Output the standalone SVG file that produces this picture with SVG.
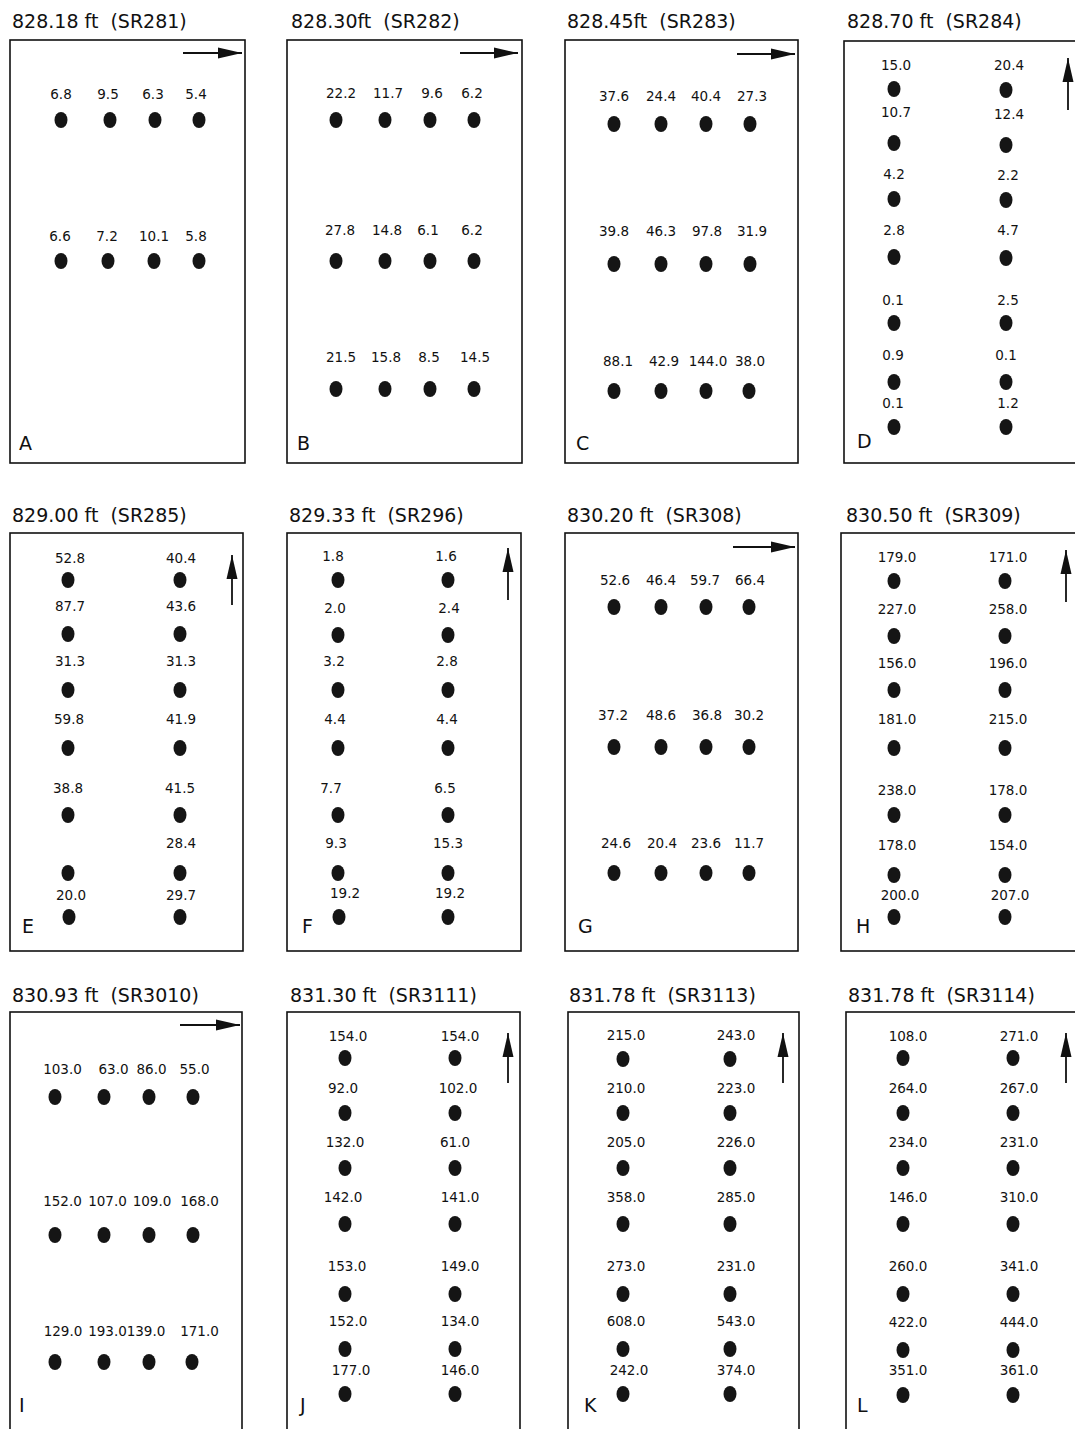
<svg xmlns="http://www.w3.org/2000/svg" xmlns:xlink="http://www.w3.org/1999/xlink" width="1075" height="1429" viewBox="0 0 1075 1429">
<style>
.bg{fill:#fff}
.box{fill:none;stroke:#111;stroke-width:1.6}
.ttl{font-family:"DejaVu Sans",sans-serif;font-size:19px;fill:#111;white-space:pre}
.let{font-family:"DejaVu Sans",sans-serif;font-size:19px;fill:#111}
.v{font-family:"DejaVu Sans",sans-serif;font-size:13.5px;fill:#111;text-anchor:middle}
.arr{stroke:#111;stroke-width:1.8;fill:none;marker-end:url(#ah)}
</style>
<defs>
<ellipse id="dot" cx="0" cy="0" rx="6.5" ry="8" fill="#151515"/>
<marker id="ah" viewBox="0 0 24 12" refX="24" refY="6" markerWidth="24" markerHeight="12" orient="auto" markerUnits="userSpaceOnUse">
<path d="M0,0.5 L24,6 L0,11.5 z" fill="#111"/>
</marker>
</defs>
<rect class="bg" x="0" y="0" width="1075" height="1429"/>

<g id="panel-A">
<text class="ttl" x="12" y="28" xml:space="preserve">828.18 ft  (SR281)</text>
<rect class="box" x="10" y="40" width="235" height="423"/>
<line class="arr" x1="183" y1="53" x2="242" y2="53"/>
<text class="v" x="61" y="99">6.8</text><text class="v" x="108" y="99">9.5</text><text class="v" x="153" y="99">6.3</text><text class="v" x="196" y="99">5.4</text>
<use href="#dot" x="61" y="120"/><use href="#dot" x="110" y="120"/><use href="#dot" x="155" y="120"/><use href="#dot" x="199" y="120"/>
<text class="v" x="60" y="241">6.6</text><text class="v" x="107" y="241">7.2</text><text class="v" x="154" y="241">10.1</text><text class="v" x="196" y="241">5.8</text>
<use href="#dot" x="61" y="261"/><use href="#dot" x="108" y="261"/><use href="#dot" x="154" y="261"/><use href="#dot" x="199" y="261"/>
<text class="let" x="19" y="450">A</text>
</g>

<g id="panel-B">
<text class="ttl" x="291" y="28" xml:space="preserve">828.30ft  (SR282)</text>
<rect class="box" x="287" y="40" width="235" height="423"/>
<line class="arr" x1="460" y1="53" x2="518" y2="53"/>
<text class="v" x="341" y="98">22.2</text><text class="v" x="388" y="98">11.7</text><text class="v" x="432" y="98">9.6</text><text class="v" x="472" y="98">6.2</text>
<use href="#dot" x="336" y="120"/><use href="#dot" x="385" y="120"/><use href="#dot" x="430" y="120"/><use href="#dot" x="474" y="120"/>
<text class="v" x="340" y="235">27.8</text><text class="v" x="387" y="235">14.8</text><text class="v" x="428" y="235">6.1</text><text class="v" x="472" y="235">6.2</text>
<use href="#dot" x="336" y="261"/><use href="#dot" x="385" y="261"/><use href="#dot" x="430" y="261"/><use href="#dot" x="474" y="261"/>
<text class="v" x="341" y="362">21.5</text><text class="v" x="386" y="362">15.8</text><text class="v" x="429" y="362">8.5</text><text class="v" x="475" y="362">14.5</text>
<use href="#dot" x="336" y="389"/><use href="#dot" x="385" y="389"/><use href="#dot" x="430" y="389"/><use href="#dot" x="474" y="389"/>
<text class="let" x="297" y="450">B</text>
</g>

<g id="panel-C">
<text class="ttl" x="567" y="28" xml:space="preserve">828.45ft  (SR283)</text>
<rect class="box" x="565" y="40" width="233" height="423"/>
<line class="arr" x1="737" y1="54" x2="795" y2="54"/>
<text class="v" x="614" y="101">37.6</text><text class="v" x="661" y="101">24.4</text><text class="v" x="706" y="101">40.4</text><text class="v" x="752" y="101">27.3</text>
<use href="#dot" x="614" y="124"/><use href="#dot" x="661" y="124"/><use href="#dot" x="706" y="124"/><use href="#dot" x="750" y="124"/>
<text class="v" x="614" y="236">39.8</text><text class="v" x="661" y="236">46.3</text><text class="v" x="707" y="236">97.8</text><text class="v" x="752" y="236">31.9</text>
<use href="#dot" x="614" y="264"/><use href="#dot" x="661" y="264"/><use href="#dot" x="706" y="264"/><use href="#dot" x="750" y="264"/>
<text class="v" x="618" y="366">88.1</text><text class="v" x="664" y="366">42.9</text><text class="v" x="708" y="366">144.0</text><text class="v" x="750" y="366">38.0</text>
<use href="#dot" x="614" y="391"/><use href="#dot" x="661" y="391"/><use href="#dot" x="706" y="391"/><use href="#dot" x="749" y="391"/>
<text class="let" x="576" y="450">C</text>
</g>

<g id="panel-D">
<text class="ttl" x="847" y="28" xml:space="preserve">828.70 ft  (SR284)</text>
<rect class="box" x="844" y="41" width="240" height="422"/>
<line class="arr" x1="1068" y1="110" x2="1068" y2="58"/>
<text class="v" x="896" y="70">15.0</text><text class="v" x="1009" y="70">20.4</text>
<use href="#dot" x="894" y="89"/><use href="#dot" x="1006" y="90"/>
<text class="v" x="896" y="117">10.7</text><text class="v" x="1009" y="119">12.4</text>
<use href="#dot" x="894" y="143"/><use href="#dot" x="1006" y="145"/>
<text class="v" x="894" y="179">4.2</text><text class="v" x="1008" y="180">2.2</text>
<use href="#dot" x="894" y="199"/><use href="#dot" x="1006" y="200"/>
<text class="v" x="894" y="235">2.8</text><text class="v" x="1008" y="235">4.7</text>
<use href="#dot" x="894" y="257"/><use href="#dot" x="1006" y="258"/>
<text class="v" x="893" y="305">0.1</text><text class="v" x="1008" y="305">2.5</text>
<use href="#dot" x="894" y="323"/><use href="#dot" x="1006" y="323"/>
<text class="v" x="893" y="360">0.9</text><text class="v" x="1006" y="360">0.1</text>
<use href="#dot" x="894" y="382"/><use href="#dot" x="1006" y="382"/>
<text class="v" x="893" y="408">0.1</text><text class="v" x="1008" y="408">1.2</text>
<use href="#dot" x="894" y="427"/><use href="#dot" x="1006" y="427"/>
<text class="let" x="857" y="448">D</text>
</g>

<g id="panel-E">
<text class="ttl" x="12" y="522" xml:space="preserve">829.00 ft  (SR285)</text>
<rect class="box" x="10" y="533" width="233" height="418"/>
<line class="arr" x1="232" y1="605" x2="232" y2="555"/>
<text class="v" x="70" y="563">52.8</text><text class="v" x="181" y="563">40.4</text>
<use href="#dot" x="68" y="580"/><use href="#dot" x="180" y="580"/>
<text class="v" x="70" y="611">87.7</text><text class="v" x="181" y="611">43.6</text>
<use href="#dot" x="68" y="634"/><use href="#dot" x="180" y="634"/>
<text class="v" x="70" y="666">31.3</text><text class="v" x="181" y="666">31.3</text>
<use href="#dot" x="68" y="690"/><use href="#dot" x="180" y="690"/>
<text class="v" x="69" y="724">59.8</text><text class="v" x="181" y="724">41.9</text>
<use href="#dot" x="68" y="748"/><use href="#dot" x="180" y="748"/>
<text class="v" x="68" y="793">38.8</text><text class="v" x="180" y="793">41.5</text>
<use href="#dot" x="68" y="815"/><use href="#dot" x="180" y="815"/>
<text class="v" x="181" y="848">28.4</text>
<use href="#dot" x="68" y="873"/><use href="#dot" x="180" y="873"/>
<text class="v" x="71" y="900">20.0</text><text class="v" x="181" y="900">29.7</text>
<use href="#dot" x="69" y="917"/><use href="#dot" x="180" y="917"/>
<text class="let" x="22" y="933">E</text>
</g>

<g id="panel-F">
<text class="ttl" x="289" y="522" xml:space="preserve">829.33 ft  (SR296)</text>
<rect class="box" x="287" y="533" width="234" height="418"/>
<line class="arr" x1="508" y1="600" x2="508" y2="548"/>
<text class="v" x="333" y="561">1.8</text><text class="v" x="446" y="561">1.6</text>
<use href="#dot" x="338" y="580"/><use href="#dot" x="448" y="580"/>
<text class="v" x="335" y="613">2.0</text><text class="v" x="449" y="613">2.4</text>
<use href="#dot" x="338" y="635"/><use href="#dot" x="448" y="635"/>
<text class="v" x="334" y="666">3.2</text><text class="v" x="447" y="666">2.8</text>
<use href="#dot" x="338" y="690"/><use href="#dot" x="448" y="690"/>
<text class="v" x="335" y="724">4.4</text><text class="v" x="447" y="724">4.4</text>
<use href="#dot" x="338" y="748"/><use href="#dot" x="448" y="748"/>
<text class="v" x="331" y="793">7.7</text><text class="v" x="445" y="793">6.5</text>
<use href="#dot" x="338" y="815"/><use href="#dot" x="448" y="815"/>
<text class="v" x="336" y="848">9.3</text><text class="v" x="448" y="848">15.3</text>
<use href="#dot" x="338" y="873"/><use href="#dot" x="448" y="873"/>
<text class="v" x="345" y="898">19.2</text><text class="v" x="450" y="898">19.2</text>
<use href="#dot" x="339" y="917"/><use href="#dot" x="448" y="917"/>
<text class="let" x="302" y="933">F</text>
</g>

<g id="panel-G">
<text class="ttl" x="567" y="522" xml:space="preserve">830.20 ft  (SR308)</text>
<rect class="box" x="565" y="533" width="233" height="418"/>
<line class="arr" x1="733" y1="547" x2="795" y2="547"/>
<text class="v" x="615" y="585">52.6</text><text class="v" x="661" y="585">46.4</text><text class="v" x="705" y="585">59.7</text><text class="v" x="750" y="585">66.4</text>
<use href="#dot" x="614" y="607"/><use href="#dot" x="661" y="607"/><use href="#dot" x="706" y="607"/><use href="#dot" x="749" y="607"/>
<text class="v" x="613" y="720">37.2</text><text class="v" x="661" y="720">48.6</text><text class="v" x="707" y="720">36.8</text><text class="v" x="749" y="720">30.2</text>
<use href="#dot" x="614" y="747"/><use href="#dot" x="661" y="747"/><use href="#dot" x="706" y="747"/><use href="#dot" x="749" y="747"/>
<text class="v" x="616" y="848">24.6</text><text class="v" x="662" y="848">20.4</text><text class="v" x="706" y="848">23.6</text><text class="v" x="749" y="848">11.7</text>
<use href="#dot" x="614" y="873"/><use href="#dot" x="661" y="873"/><use href="#dot" x="706" y="873"/><use href="#dot" x="749" y="873"/>
<text class="let" x="578" y="933">G</text>
</g>

<g id="panel-H">
<text class="ttl" x="846" y="522" xml:space="preserve">830.50 ft  (SR309)</text>
<rect class="box" x="841" y="533" width="243" height="418"/>
<line class="arr" x1="1066" y1="602" x2="1066" y2="550"/>
<text class="v" x="897" y="562">179.0</text><text class="v" x="1008" y="562">171.0</text>
<use href="#dot" x="894" y="581"/><use href="#dot" x="1005" y="581"/>
<text class="v" x="897" y="614">227.0</text><text class="v" x="1008" y="614">258.0</text>
<use href="#dot" x="894" y="636"/><use href="#dot" x="1005" y="636"/>
<text class="v" x="897" y="668">156.0</text><text class="v" x="1008" y="668">196.0</text>
<use href="#dot" x="894" y="690"/><use href="#dot" x="1005" y="690"/>
<text class="v" x="897" y="724">181.0</text><text class="v" x="1008" y="724">215.0</text>
<use href="#dot" x="894" y="748"/><use href="#dot" x="1005" y="748"/>
<text class="v" x="897" y="795">238.0</text><text class="v" x="1008" y="795">178.0</text>
<use href="#dot" x="894" y="815"/><use href="#dot" x="1005" y="815"/>
<text class="v" x="897" y="850">178.0</text><text class="v" x="1008" y="850">154.0</text>
<use href="#dot" x="894" y="875"/><use href="#dot" x="1005" y="875"/>
<text class="v" x="900" y="900">200.0</text><text class="v" x="1010" y="900">207.0</text>
<use href="#dot" x="894" y="917"/><use href="#dot" x="1005" y="917"/>
<text class="let" x="856" y="933">H</text>
</g>

<g id="panel-I">
<text class="ttl" x="12" y="1002" xml:space="preserve">830.93 ft  (SR3010)</text>
<rect class="box" x="10" y="1012" width="232" height="430"/>
<line class="arr" x1="180" y1="1025" x2="240" y2="1025"/>
<text class="v" x="62.5" y="1074">103.0</text><text class="v" x="113.5" y="1074">63.0</text><text class="v" x="151.5" y="1074">86.0</text><text class="v" x="194.5" y="1074">55.0</text>
<use href="#dot" x="55" y="1097"/><use href="#dot" x="104" y="1097"/><use href="#dot" x="149" y="1097"/><use href="#dot" x="193" y="1097"/>
<text class="v" x="62.5" y="1206">152.0</text><text class="v" x="107.5" y="1206">107.0</text><text class="v" x="152" y="1206">109.0</text><text class="v" x="199.5" y="1206">168.0</text>
<use href="#dot" x="55" y="1235"/><use href="#dot" x="104" y="1235"/><use href="#dot" x="149" y="1235"/><use href="#dot" x="193" y="1235"/>
<text class="v" x="63" y="1336">129.0</text><text class="v" x="107.5" y="1336">193.0</text><text class="v" x="146" y="1336">139.0</text><text class="v" x="199.5" y="1336">171.0</text>
<use href="#dot" x="55" y="1362"/><use href="#dot" x="104" y="1362"/><use href="#dot" x="149" y="1362"/><use href="#dot" x="192" y="1362"/>
<text class="let" x="19" y="1412">I</text>
</g>

<g id="panel-J">
<text class="ttl" x="290" y="1002" xml:space="preserve">831.30 ft  (SR3111)</text>
<rect class="box" x="287" y="1012" width="233" height="430"/>
<line class="arr" x1="508" y1="1083" x2="508" y2="1033"/>
<text class="v" x="348" y="1041">154.0</text><text class="v" x="460" y="1041">154.0</text>
<use href="#dot" x="345" y="1058"/><use href="#dot" x="455" y="1058"/>
<text class="v" x="343" y="1093">92.0</text><text class="v" x="458" y="1093">102.0</text>
<use href="#dot" x="345" y="1113"/><use href="#dot" x="455" y="1113"/>
<text class="v" x="345" y="1147">132.0</text><text class="v" x="455" y="1147">61.0</text>
<use href="#dot" x="345" y="1168"/><use href="#dot" x="455" y="1168"/>
<text class="v" x="343" y="1202">142.0</text><text class="v" x="460" y="1202">141.0</text>
<use href="#dot" x="345" y="1224"/><use href="#dot" x="455" y="1224"/>
<text class="v" x="347" y="1271">153.0</text><text class="v" x="460" y="1271">149.0</text>
<use href="#dot" x="345" y="1294"/><use href="#dot" x="455" y="1294"/>
<text class="v" x="348" y="1326">152.0</text><text class="v" x="460" y="1326">134.0</text>
<use href="#dot" x="345" y="1349"/><use href="#dot" x="455" y="1349"/>
<text class="v" x="351" y="1375">177.0</text><text class="v" x="460" y="1375">146.0</text>
<use href="#dot" x="345" y="1394"/><use href="#dot" x="455" y="1394"/>
<text class="let" x="300" y="1412">J</text>
</g>

<g id="panel-K">
<text class="ttl" x="569" y="1002" xml:space="preserve">831.78 ft  (SR3113)</text>
<rect class="box" x="568" y="1012" width="231" height="430"/>
<line class="arr" x1="783" y1="1083" x2="783" y2="1033"/>
<text class="v" x="626" y="1040">215.0</text><text class="v" x="736" y="1040">243.0</text>
<use href="#dot" x="623" y="1059"/><use href="#dot" x="730" y="1059"/>
<text class="v" x="626" y="1093">210.0</text><text class="v" x="736" y="1093">223.0</text>
<use href="#dot" x="623" y="1113"/><use href="#dot" x="730" y="1113"/>
<text class="v" x="626" y="1147">205.0</text><text class="v" x="736" y="1147">226.0</text>
<use href="#dot" x="623" y="1168"/><use href="#dot" x="730" y="1168"/>
<text class="v" x="626" y="1202">358.0</text><text class="v" x="736" y="1202">285.0</text>
<use href="#dot" x="623" y="1224"/><use href="#dot" x="730" y="1224"/>
<text class="v" x="626" y="1271">273.0</text><text class="v" x="736" y="1271">231.0</text>
<use href="#dot" x="623" y="1294"/><use href="#dot" x="730" y="1294"/>
<text class="v" x="626" y="1326">608.0</text><text class="v" x="736" y="1326">543.0</text>
<use href="#dot" x="623" y="1349"/><use href="#dot" x="730" y="1349"/>
<text class="v" x="629" y="1375">242.0</text><text class="v" x="736" y="1375">374.0</text>
<use href="#dot" x="623" y="1394"/><use href="#dot" x="730" y="1394"/>
<text class="let" x="584" y="1412">K</text>
</g>

<g id="panel-L">
<text class="ttl" x="848" y="1002" xml:space="preserve">831.78 ft  (SR3114)</text>
<rect class="box" x="846" y="1012" width="238" height="430"/>
<line class="arr" x1="1066" y1="1083" x2="1066" y2="1033"/>
<text class="v" x="908" y="1041">108.0</text><text class="v" x="1019" y="1041">271.0</text>
<use href="#dot" x="903" y="1058"/><use href="#dot" x="1013" y="1058"/>
<text class="v" x="908" y="1093">264.0</text><text class="v" x="1019" y="1093">267.0</text>
<use href="#dot" x="903" y="1113"/><use href="#dot" x="1013" y="1113"/>
<text class="v" x="908" y="1147">234.0</text><text class="v" x="1019" y="1147">231.0</text>
<use href="#dot" x="903" y="1168"/><use href="#dot" x="1013" y="1168"/>
<text class="v" x="908" y="1202">146.0</text><text class="v" x="1019" y="1202">310.0</text>
<use href="#dot" x="903" y="1224"/><use href="#dot" x="1013" y="1224"/>
<text class="v" x="908" y="1271">260.0</text><text class="v" x="1019" y="1271">341.0</text>
<use href="#dot" x="903" y="1294"/><use href="#dot" x="1013" y="1294"/>
<text class="v" x="908" y="1327">422.0</text><text class="v" x="1019" y="1327">444.0</text>
<use href="#dot" x="903" y="1350"/><use href="#dot" x="1013" y="1350"/>
<text class="v" x="908" y="1375">351.0</text><text class="v" x="1019" y="1375">361.0</text>
<use href="#dot" x="903" y="1395"/><use href="#dot" x="1013" y="1395"/>
<text class="let" x="857" y="1412">L</text>
</g>
</svg>
